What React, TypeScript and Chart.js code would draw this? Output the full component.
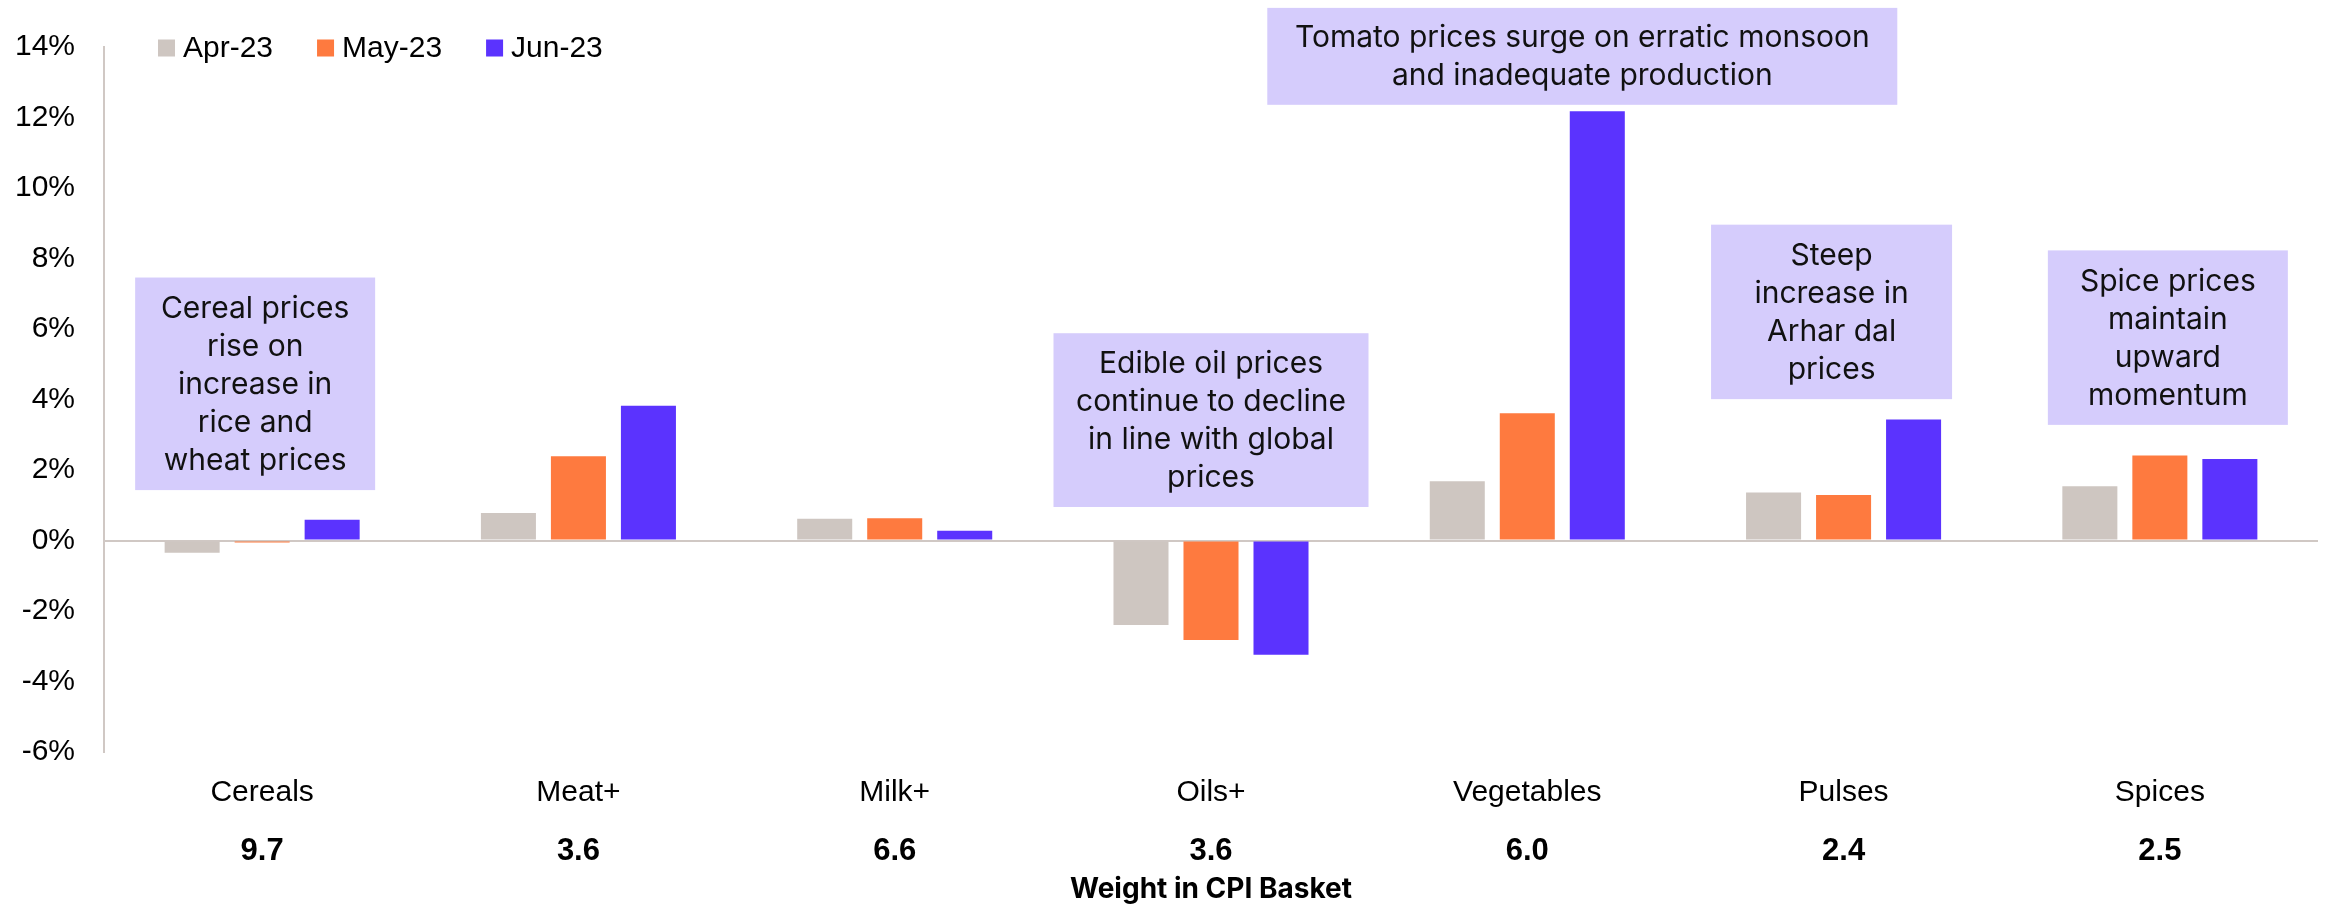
import React, { useEffect, useRef } from "react";
import { Chart, registerables } from "chart.js";

Chart.register(...registerables);

const categories = ["Cereals", "Meat+", "Milk+", "Oils+", "Vegetables", "Pulses", "Spices"];
const weights = ["9.7", "3.6", "6.6", "3.6", "6.0", "2.4", "2.5"];
const seriesNames = ["Apr-23", "May-23", "Jun-23"];
const apr23 = [-0.35, 0.78, 0.62, -2.4, 1.68, 1.36, 1.54];
const may23 = [-0.06, 2.39, 0.63, -2.82, 3.61, 1.29, 2.41];
const jun23 = [0.59, 3.82, 0.28, -3.24, 12.18, 3.43, 2.31];
const yTicks = { min: -6, max: 14, step: 2 };
const xTitle = "Weight in CPI Basket";

const noteTexts = [
  ["Cereal prices", "rise on", "increase in", "rice and", "wheat prices"],
  ["Edible oil prices", "continue to decline", "in line with global", "prices"],
  ["Tomato prices surge on erratic monsoon", "and inadequate production"],
  ["Steep", "increase in", "Arhar dal", "prices"],
  ["Spice prices", "maintain", "upward", "momentum"],
];
const noteCategory = [0, 3, 4, 5, 6];
const noteTop = [7.46, 5.88, 15.11, 8.96, 8.23];
const noteBottom = [1.43, 0.95, 12.36, 4.01, 3.28];

// styles
const noteStyle = {
  widths: [240, 315, 630, 241, 240],
  dx: [-7, 0, 55, -12, 8],
  fill: "#d5ccfc",
  font: "30px Inter, 'Noto Sans', sans-serif",
  lineHeight: 38,
};
const colors = ["#cec6c1", "#fe7a3f", "#5b33fe"];
const axisColor = "#d0c8c4";
const sansFamily = "'Liberation Sans', Arial, sans-serif";

const notesPlugin = {
  id: "notes",
  afterDatasetsDraw(chart: any) {
    const { ctx, scales } = chart;
    ctx.save();
    noteTexts.forEach((lines, i) => {
      const cx = scales.x.getPixelForValue(noteCategory[i]) + noteStyle.dx[i];
      const top = scales.y.getPixelForValue(noteTop[i]);
      const bottom = scales.y.getPixelForValue(noteBottom[i]);
      const w = noteStyle.widths[i];
      ctx.fillStyle = noteStyle.fill;
      ctx.fillRect(cx - w / 2, top, w, bottom - top);
      ctx.fillStyle = "#111";
      ctx.font = noteStyle.font;
      ctx.textAlign = "center";
      ctx.textBaseline = "middle";
      const mid = (top + bottom) / 2;
      const start = mid - ((lines.length - 1) * noteStyle.lineHeight) / 2;
      lines.forEach((ln, j) => ctx.fillText(ln, cx, start + j * noteStyle.lineHeight + 1));
    });
    ctx.restore();
  },
};

const legendPlugin = {
  id: "customLegend",
  afterDraw(chart: any) {
    const { ctx } = chart;
    ctx.save();
    ctx.font = `30px ${sansFamily}`;
    ctx.textBaseline = "middle";
    ctx.textAlign = "left";
    let x = 158;
    const yc = 48;
    chart.data.datasets.forEach((ds: any) => {
      ctx.fillStyle = ds.backgroundColor;
      ctx.fillRect(x, yc - 8.5, 17, 17);
      ctx.fillStyle = "#000";
      ctx.fillText(ds.label, x + 25, yc + 1);
      x += 25 + ctx.measureText(ds.label).width + 44;
    });
    ctx.restore();
  },
};

export default function App() {
  const ref = useRef<HTMLCanvasElement | null>(null);
  useEffect(() => {
    if (!ref.current) return;
    const series = [apr23, may23, jun23];
    const chart = new Chart(ref.current, {
      type: "bar",
      data: {
        labels: categories,
        datasets: seriesNames.map((name, i) => ({
          label: name,
          data: series[i],
          backgroundColor: colors[i],
          categoryPercentage: 0.664,
          barPercentage: 0.786,
        })),
      },
      plugins: [notesPlugin, legendPlugin],
      options: {
        animation: false,
        responsive: true,
        maintainAspectRatio: false,
        layout: { padding: { top: 45, right: 7, left: 0, bottom: 0 } },
        plugins: { legend: { display: false }, tooltip: { enabled: false } },
        scales: {
          x: {
            type: "category",
            position: "bottom",
            weight: 0,
            afterFit(scale: any) {
              scale.height = 56;
            },
            grid: { display: false, drawTicks: false },
            border: { display: false },
            ticks: { color: "#000", padding: 23, font: { family: sansFamily, size: 30 } },
          },
          x2: {
            type: "category",
            position: "bottom",
            weight: 1,
            labels: weights,
            afterFit(scale: any) {
              scale.height = 98;
            },
            grid: { display: false, drawTicks: false },
            border: { display: false },
            ticks: { color: "#000", padding: 25, font: { family: sansFamily, size: 31, weight: "bold" } },
            title: {
              display: true,
              text: xTitle,
              color: "#000",
              padding: { top: 0, bottom: 0 },
              font: { family: "Inter, 'Noto Sans', sans-serif", size: 28, weight: "bold" },
            },
          },
          y: {
            min: yTicks.min,
            max: yTicks.max,
            afterFit(scale: any) {
              scale.width = 104;
            },
            ticks: {
              stepSize: yTicks.step,
              color: "#000",
              padding: 29,
              font: { family: sansFamily, size: 30 },
              callback: (v: any) => `${v}%`,
            },
            grid: {
              drawTicks: false,
              lineWidth: 2,
              color: (c: any) => (c.tick && c.tick.value === 0 ? axisColor : "rgba(0,0,0,0)"),
            },
            border: { display: true, color: axisColor, width: 2 },
          },
        },
      } as any,
    });
    return () => chart.destroy();
  }, []);
  return (
    <div style={{ position: "fixed", left: 0, top: 0, width: 2325, height: 906, background: "#fff" }}>
      <canvas ref={ref} />
    </div>
  );
}
